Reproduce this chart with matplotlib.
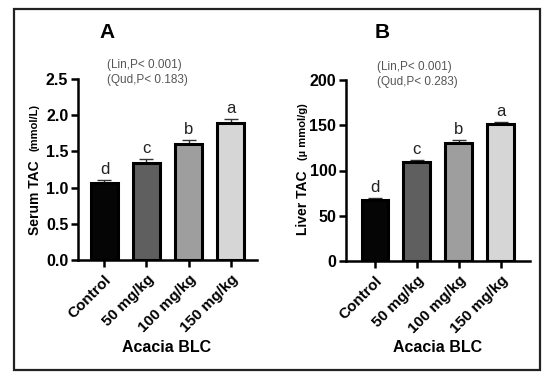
import matplotlib
matplotlib.use("Agg")
import matplotlib.pyplot as plt
from matplotlib.patches import Rectangle

plt.rcParams['font.family'] = ['Liberation Sans', 'DejaVu Sans']

categories = ["Control", "50 mg/kg", "100 mg/kg", "150 mg/kg"]
colors = ["#050505", "#5f5f5f", "#9e9e9e", "#d6d6d6"]
letters = ["d", "c", "b", "a"]

serum_vals = [1.06, 1.34, 1.60, 1.89]
serum_err = [0.04, 0.05, 0.06, 0.06]
serum_ticks = [0.0, 0.5, 1.0, 1.5, 2.0, 2.5]
serum_ticklabels = ["0.0", "0.5", "1.0", "1.5", "2.0", "2.5"]

liver_vals = [67.5, 109.5, 130.5, 151.5]
liver_err = [2.0, 2.0, 3.0, 2.0]
liver_ticks = [0, 50, 100, 150, 200]
liver_ticklabels = ["0", "50", "100", "150", "200"]

W, H = 550, 383
fig = plt.figure(figsize=(5.5, 3.83), dpi=100)

def fx(px):
    return px / W

def fy(py):
    return 1 - py / H

fig.patches.append(Rectangle((fx(14), fy(370)), fx(540) - fx(14), fy(9) - fy(370),
                             transform=fig.transFigure, fill=False, edgecolor="#222222",
                             linewidth=1.6, zorder=0))


def panel(rect, vals, errs, ticks, ticklabels, ylim, xlim, letter_off):
    ax = fig.add_axes(rect)
    x = list(range(len(categories)))
    ax.bar(x, vals, width=0.64, color=colors, edgecolor="black", linewidth=2.2, zorder=3)
    ax.errorbar(x, vals, yerr=[[0] * len(errs), errs], fmt="none", ecolor="#333333",
                elinewidth=1.0, capsize=5, capthick=1.0, zorder=2)
    for xi, v, e, l in zip(x, vals, errs, letters):
        ax.text(xi, v + e + letter_off, l, ha="center", va="bottom", fontsize=12, color="#222222")
    ax.set_xlim(*xlim)
    ax.set_ylim(*ylim)
    ax.set_yticks(ticks)
    ax.set_yticklabels(ticklabels, fontsize=11.5, fontweight="bold")
    ax.set_xticks(x)
    ax.set_xticklabels(categories, rotation=45, ha="right", rotation_mode="anchor",
                       fontsize=11, fontweight="bold")
    for s in ["top", "right"]:
        ax.spines[s].set_visible(False)
    for s in ["left", "bottom"]:
        ax.spines[s].set_linewidth(1.8)
    ax.tick_params(axis="both", width=1.8, length=5, direction="out", pad=2)
    ax.tick_params(axis="x", pad=4)
    return ax


axA = panel([fx(78), fy(260), fx(257) - fx(78), fy(79) - fy(260)],
            serum_vals, serum_err, serum_ticks, serum_ticklabels, (0, 2.5), (-0.63, 3.63), 0.04)
axB = panel([fx(346), fy(261), fx(530) - fx(346), fy(80) - fy(261)],
            liver_vals, liver_err, liver_ticks, liver_ticklabels, (0, 200), (-0.69, 3.7), 3.5)

# panel letters
fig.text(fx(107), fy(33), "A", fontsize=15, fontweight="bold", ha="center", va="center")
fig.text(fx(382), fy(33), "B", fontsize=15, fontweight="bold", ha="center", va="center")

# annotations
fig.text(fx(107), fy(65), "(Lin,P< 0.001)", fontsize=8.5, color="#555555", ha="left", va="center")
fig.text(fx(107), fy(80), "(Qud,P< 0.183)", fontsize=8.5, color="#555555", ha="left", va="center")
fig.text(fx(377), fy(67), "(Lin,P< 0.001)", fontsize=8.5, color="#555555", ha="left", va="center")
fig.text(fx(377), fy(82), "(Qud,P< 0.283)", fontsize=8.5, color="#555555", ha="left", va="center")

# y labels
fig.text(fx(35), fy(235), "Serum TAC", rotation=90, fontsize=10, fontweight="bold",
         ha="center", va="bottom")
fig.text(fx(35), fy(104), "(mmol/L)", rotation=90, fontsize=8, fontweight="bold",
         ha="center", va="top")
fig.text(fx(303), fy(235), "Liver TAC", rotation=90, fontsize=10, fontweight="bold",
         ha="center", va="bottom")
fig.text(fx(303), fy(103), "(\u00b5 mmol/g)", rotation=90, fontsize=8, fontweight="bold",
         ha="center", va="top")

# x labels
fig.text(fx(167), fy(347), "Acacia BLC", fontsize=11.5, fontweight="bold", ha="center", va="center")
fig.text(fx(438), fy(347), "Acacia BLC", fontsize=11.5, fontweight="bold", ha="center", va="center")

fig.savefig("out.png", dpi=100)
